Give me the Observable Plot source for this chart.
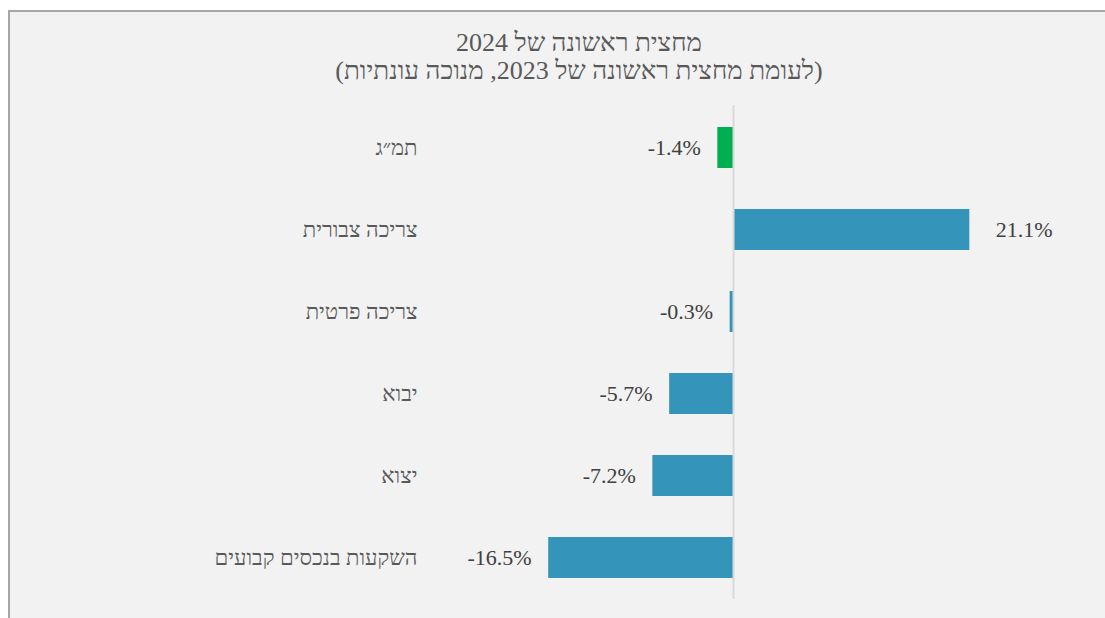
<!DOCTYPE html>
<html>
<head>
<meta charset="utf-8">
<script src="https://cdn.jsdelivr.net/npm/d3@7"></script>
<script src="https://cdn.jsdelivr.net/npm/@observablehq/plot@0.6"></script>
<style>
  html, body { margin: 0; padding: 0; background: #ffffff; }
  #wrap { position: relative; width: 1105px; height: 618px; overflow: hidden; }
  #panel { position: absolute; left: 8px; top: 10px; width: 1110px; height: 620px;
           background: #f2f2f2; border-left: 2px solid #a6a6a6; border-top: 2px solid #a6a6a6; }
  #chart { position: absolute; left: 0; top: 0; }
  #title { position: absolute; left: 579px; top: 29px; transform: translateX(-50%);
           white-space: nowrap; text-align: center; font-family: "Liberation Serif", serif;
           font-size: 26px; line-height: 28px; color: #595959; direction: rtl; }
</style>
</head>
<body>
<div id="wrap">
  <div id="panel"></div>
  <div id="chart"></div>
  <div id="title" dir="rtl"></div>
</div>
<script>
const titleLines = ["מחצית ראשונה של 2024", "(לעומת מחצית ראשונה של 2023, מנוכה עונתיות)"];
const categories = ["תמ״ג", "צריכה צבורית", "צריכה פרטית", "יבוא", "יצוא", "השקעות בנכסים קבועים"];
const values = [-1.4, 21.1, -0.3, -5.7, -7.2, -16.5];
const valueLabels = ["-1.4%", "21.1%", "-0.3%", "-5.7%", "-7.2%", "-16.5%"];
const barColors = ["#00b050", "#3494ba", "#3494ba", "#3494ba", "#3494ba", "#3494ba"];

const data = categories.map((c, i) => ({cat: c, value: values[i], label: valueLabels[i], color: barColors[i]}));

const titleEl = document.getElementById("title");
titleLines.forEach(t => { const d = document.createElement("div"); d.textContent = t; titleEl.appendChild(d); });

const chart = Plot.plot({
  width: 1105,
  height: 618,
  marginLeft: 509,
  marginRight: 92,
  marginTop: 105,
  marginBottom: 19,
  style: {fontFamily: "Liberation Serif, serif", fontSize: "22px", background: "transparent", color: "#595959"},
  x: {domain: [-20, 25], axis: null},
  y: {domain: categories, paddingInner: 0.5, paddingOuter: 0.25, axis: null},
  color: {type: "identity"},
  marks: [
    Plot.barX(data, {x: "value", y: "cat", fill: "color"}),
    Plot.ruleX([0], {stroke: "#d9d9d9", strokeWidth: 2}),
    Plot.axisY({tickSize: 0, tickPadding: 92, label: null, fontSize: 22, fill: "#595959"}),
    Plot.text(data.filter(d => d.value < 0), {x: "value", y: "cat", text: "label", textAnchor: "end", dx: -17, fontSize: 22, fill: "#404040"}),
    Plot.text(data.filter(d => d.value >= 0), {x: "value", y: "cat", text: "label", textAnchor: "start", dx: 26, fontSize: 22, fill: "#404040"})
  ]
});
document.getElementById("chart").appendChild(chart);
</script>
</body>
</html>
